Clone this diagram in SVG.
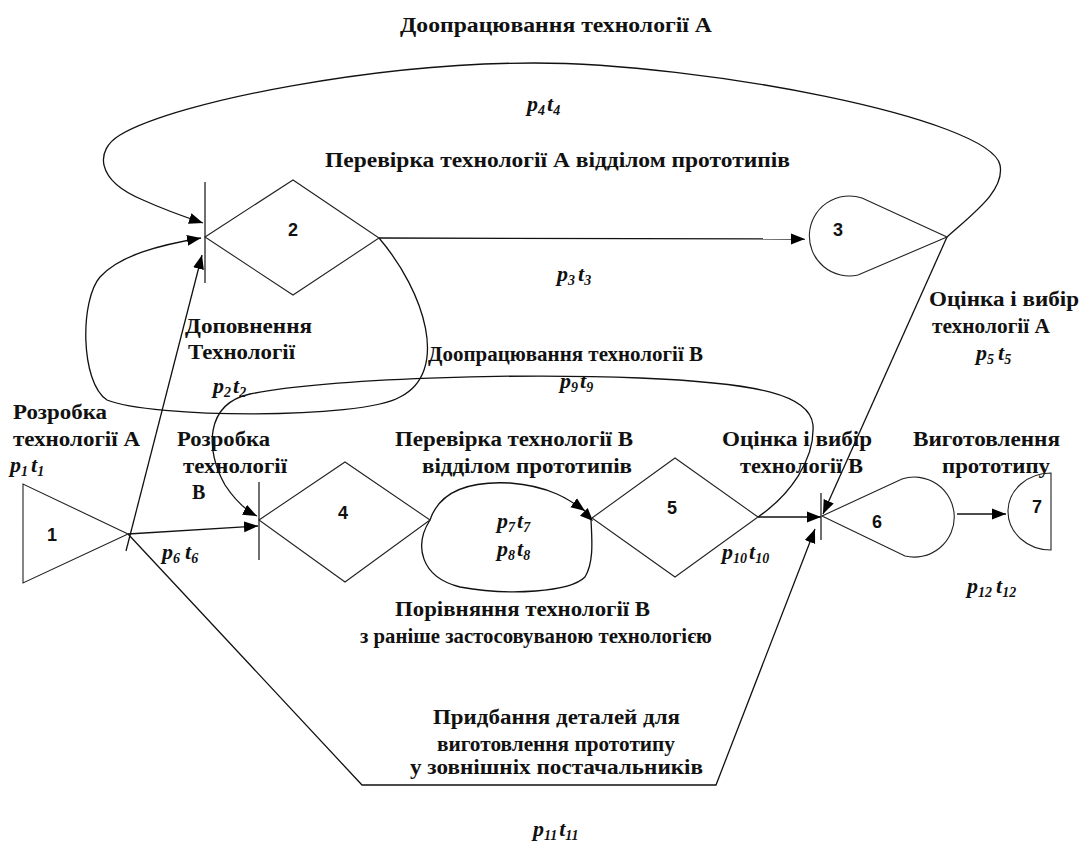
<svg xmlns="http://www.w3.org/2000/svg" width="1081" height="841" viewBox="0 0 1081 841">
<style>
.shape{fill:none;stroke:#222;stroke-width:1.1}
.bar{stroke:#222;stroke-width:1.3}
.con{fill:none;stroke:#111;stroke-width:1.3}
.lbl{font-family:"Liberation Serif","Times New Roman",serif;font-weight:bold;font-size:20px;fill:#111}
.pt{font-family:"Liberation Serif","Times New Roman",serif;font-style:italic;font-weight:bold;font-size:22px;fill:#111}
.sub{font-size:14px}
.num{font-family:"Liberation Sans",Arial,sans-serif;font-weight:bold;font-size:18px;fill:#111;text-anchor:middle}
</style>
<defs>
<marker id="ah" markerUnits="userSpaceOnUse" markerWidth="15" markerHeight="12" refX="14" refY="6" orient="auto">
<path d="M0,0.5 L14,6 L0,11.5 Z" fill="#000"/>
</marker>
</defs>
<rect width="1081" height="841" fill="#fff"/>

<g id="connectors">
<line class="con" x1="126" y1="551" x2="202" y2="255" marker-end="url(#ah)"/>
<line class="con" x1="128" y1="534" x2="258" y2="526" marker-end="url(#ah)"/>
<polyline class="con" points="128,534 362,785 716,785 815,529" marker-end="url(#ah)"/>
<line class="con" x1="379" y1="238" x2="805" y2="239" marker-end="url(#ah)"/>
<path class="con" d="M379,238 C425,292 450,372 400,397 C360,420 150,418 107,400 C80,382 80,300 100,277 C120,255 160,245 201,238" marker-end="url(#ah)"/>
<path class="con" d="M947,237 C975,212 1005,190 1000,165 C990,118 700,63 534,63 C380,63 180,100 120,135 C95,150 95,180 143,200 C165,210 185,217 203,223" marker-end="url(#ah)"/>
<line class="con" x1="947" y1="237" x2="823" y2="514" marker-end="url(#ah)"/>
<path class="con" d="M430,520 C440,490 470,481 510,483 C550,486 570,500 585,511" marker-end="url(#ah)"/>
<path class="con" d="M430,520 C414,545 420,577 460,587 C510,596 570,592 585,577 C594,562 592,540 591,520"/>
<polygon points="593,521 580,515.7 587.7,508" fill="#000"/>
<path class="con" d="M758,517 C790,495 815,460 813,425 C810,395 760,383 640,378 C520,373 330,378 250,394 C205,404 205,450 225,485 C235,500 245,510 257,516" marker-end="url(#ah)"/>
<line class="con" x1="758" y1="517" x2="821" y2="517" marker-end="url(#ah)"/>
<line class="con" x1="957" y1="514" x2="1006" y2="514" marker-end="url(#ah)"/>
</g>

<g id="node1">
<polygon class="shape" points="23,484 23,583 128,534"/>
<text class="num" x="52" y="541">1</text>
</g>
<g id="node2">
<polygon class="shape" points="205,237 293,180 379,238 293,295"/>
<line class="bar" x1="205" y1="182" x2="205" y2="283"/>
<text class="num" x="293" y="236">2</text>
</g>
<g id="node3">
<path class="shape" d="M862,198 A40,40 0 1 0 858,275 L947,237 Z"/>
<text class="num" x="838" y="236">3</text>
</g>
<g id="node4">
<polygon class="shape" points="259,520 345,462 430,520 345,582"/>
<line class="bar" x1="259" y1="482" x2="259" y2="560"/>
<text class="num" x="343" y="519">4</text>
</g>
<g id="node5">
<polygon class="shape" points="592,518 675,458 758,517 675,577"/>
<text class="num" x="672" y="514">5</text>
</g>
<g id="node6">
<path class="shape" d="M902,479 A40,40 0 1 1 905,556 L822,516 Z"/>
<line class="bar" x1="821" y1="493" x2="821" y2="540"/>
<text class="num" x="877" y="528">6</text>
</g>
<g id="node7">
<path class="shape" d="M1051,473 A43,38.5 0 0 0 1051,550 Z"/>
<text class="num" x="1037" y="513">7</text>
</g>

<g id="labels">
<text class="lbl" x="400" y="32" textLength="312" lengthAdjust="spacingAndGlyphs">Доопрацювання технології А</text>
<text class="pt" x="527" y="111">p<tspan class="sub" dy="4">4</tspan><tspan dy="-4" dx="2">t</tspan><tspan class="sub" dy="4">4</tspan></text>
<text class="lbl" x="325" y="167" textLength="465" lengthAdjust="spacingAndGlyphs">Перевірка технології А відділом прототипів</text>
<text class="pt" x="557" y="281">p<tspan class="sub" dy="4">3</tspan><tspan dy="-4" dx="3">t</tspan><tspan class="sub" dy="4">3</tspan></text>
<text class="lbl" x="929" y="306" textLength="150" lengthAdjust="spacingAndGlyphs">Оцінка і вибір</text>
<text class="lbl" x="932" y="333" textLength="118" lengthAdjust="spacingAndGlyphs">технології А</text>
<text class="pt" x="976" y="360" font-weight="normal">p<tspan class="sub" dy="4">5</tspan><tspan dy="-4" dx="4">t</tspan><tspan class="sub" dy="4">5</tspan></text>
<text class="lbl" x="185" y="333" textLength="127" lengthAdjust="spacingAndGlyphs">Доповнення</text>
<text class="lbl" x="188" y="359" textLength="107" lengthAdjust="spacingAndGlyphs">Технології</text>
<text class="pt" x="213" y="393">p<tspan class="sub" dy="4">2</tspan><tspan dy="-4" dx="2">t</tspan><tspan class="sub" dy="4">2</tspan></text>
<text class="lbl" x="428" y="361" textLength="275" lengthAdjust="spacingAndGlyphs">Доопрацювання технології В</text>
<text class="pt" x="560" y="388">p<tspan class="sub" dy="4">9</tspan><tspan dy="-4" dx="2">t</tspan><tspan class="sub" dy="4">9</tspan></text>
<text class="lbl" x="13" y="419" textLength="94" lengthAdjust="spacingAndGlyphs">Розробка</text>
<text class="lbl" x="13" y="446" textLength="127" lengthAdjust="spacingAndGlyphs">технології А</text>
<text class="pt" x="10" y="472">p<tspan class="sub" dy="4">1</tspan><tspan dy="-4" dx="3">t</tspan><tspan class="sub" dy="4">1</tspan></text>
<text class="lbl" x="177" y="446" textLength="93" lengthAdjust="spacingAndGlyphs">Розробка</text>
<text class="lbl" x="183" y="473" textLength="104" lengthAdjust="spacingAndGlyphs">технології</text>
<text class="lbl" x="192" y="499">В</text>
<text class="lbl" x="395" y="446" textLength="238" lengthAdjust="spacingAndGlyphs">Перевірка технології В</text>
<text class="lbl" x="422" y="473" textLength="210" lengthAdjust="spacingAndGlyphs">відділом прототипів</text>
<text class="lbl" x="722" y="446" textLength="150" lengthAdjust="spacingAndGlyphs">Оцінка і вибір</text>
<text class="lbl" x="740" y="473" textLength="123" lengthAdjust="spacingAndGlyphs">технології В</text>
<text class="lbl" x="913" y="446" textLength="147" lengthAdjust="spacingAndGlyphs">Виготовлення</text>
<text class="lbl" x="942" y="473" textLength="108" lengthAdjust="spacingAndGlyphs">прототипу</text>
<text class="pt" x="497" y="528">p<tspan class="sub" dy="4">7</tspan><tspan dy="-4" dx="2">t</tspan><tspan class="sub" dy="4">7</tspan></text>
<text class="pt" x="497" y="556">p<tspan class="sub" dy="4">8</tspan><tspan dy="-4" dx="2">t</tspan><tspan class="sub" dy="4">8</tspan></text>
<text class="pt" x="162" y="559">p<tspan class="sub" dy="4">6</tspan><tspan dy="-4" dx="5">t</tspan><tspan class="sub" dy="4">6</tspan></text>
<text class="pt" x="722" y="559">p<tspan class="sub" dy="4">10</tspan><tspan dy="-4" dx="2">t</tspan><tspan class="sub" dy="4">10</tspan></text>
<text class="pt" x="967" y="593">p<tspan class="sub" dy="4">12</tspan><tspan dy="-4" dx="4">t</tspan><tspan class="sub" dy="4">12</tspan></text>
<text class="lbl" x="395" y="616" textLength="255" lengthAdjust="spacingAndGlyphs">Порівняння технології В</text>
<text class="lbl" x="360" y="643" textLength="352" lengthAdjust="spacingAndGlyphs">з раніше застосовуваною технологією</text>
<text class="lbl" x="433" y="724" textLength="247" lengthAdjust="spacingAndGlyphs">Придбання деталей для</text>
<text class="lbl" x="437" y="751" textLength="238" lengthAdjust="spacingAndGlyphs">виготовлення прототипу</text>
<text class="lbl" x="410" y="774" textLength="293" lengthAdjust="spacingAndGlyphs">у зовнішніх постачальників</text>
<text class="pt" x="533" y="836">p<tspan class="sub" dy="4">11</tspan><tspan dy="-4" dx="2">t</tspan><tspan class="sub" dy="4">11</tspan></text>
</g>
</svg>
